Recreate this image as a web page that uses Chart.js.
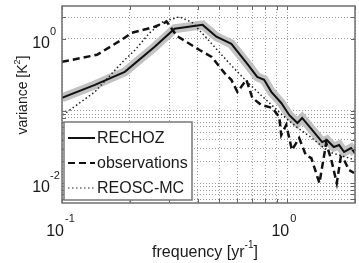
<!DOCTYPE html>
<html>
<head>
<meta charset="utf-8">
<script src="https://cdn.jsdelivr.net/npm/chart.js@4"></script>
<style>
  body { margin: 0; background: #fff; }
  #wrap { width: 359px; height: 263px; }
</style>
</head>
<body>
<div id="wrap"><canvas id="spec" width="359" height="263"></canvas></div>
<script>
// frequency [1/yr] and variance [K^2]
const rechozFreq = [0.100, 0.140, 0.190, 0.258, 0.316, 0.421, 0.485, 0.565, 0.665, 0.736, 0.790, 0.850, 0.941, 1.02, 1.11, 1.165, 1.29, 1.43, 1.50, 1.61, 1.70, 1.79, 1.92, 2.0];
const rechozVar  = [0.152, 0.230, 0.348, 0.774, 1.38, 1.56, 1.07, 0.85, 0.45, 0.297, 0.27, 0.184, 0.129, 0.088, 0.068, 0.080, 0.0545, 0.037, 0.0396, 0.0316, 0.0337, 0.027, 0.0306, 0.026];

const obsFreq = [0.100, 0.143, 0.184, 0.204, 0.258, 0.292, 0.323, 0.408, 0.462, 0.526, 0.565, 0.601, 0.659, 0.700, 0.767, 0.859, 0.922, 0.941, 0.990, 1.05, 1.13, 1.21, 1.28, 1.39, 1.49, 1.57, 1.66, 1.73, 1.79, 1.88, 1.98];
const obsVar  = [0.48, 0.60, 0.97, 1.21, 1.47, 1.72, 1.10, 0.70, 0.562, 0.337, 0.27, 0.184, 0.27, 0.152, 0.121, 0.110, 0.0825, 0.0464, 0.064, 0.0287, 0.042, 0.0245, 0.0222, 0.010, 0.036, 0.0209, 0.010, 0.023, 0.0209, 0.0152, 0.0138];

const reoscFreq = [0.101, 0.140, 0.186, 0.211, 0.245, 0.280, 0.333, 0.380, 0.438, 0.526, 0.601, 0.693, 0.807, 0.951, 1.10, 1.29, 1.53, 1.82, 2.0];
const reoscVar  = [0.088, 0.184, 0.48, 0.70, 1.21, 1.72, 2.02, 1.67, 1.03, 0.545, 0.348, 0.222, 0.142, 0.088, 0.060, 0.042, 0.027, 0.023, 0.0209];

const xTicks = [0.1, 0.2, 0.3, 0.4, 0.5, 0.6, 0.7, 0.8, 0.9, 1, 2];
const yTicks = [0.006, 0.007, 0.008, 0.009, 0.01, 0.02, 0.03, 0.04, 0.05, 0.06, 0.07, 0.08, 0.09, 0.1, 1, 2];
const xLabels = [[0.1, '-1'], [1, '0']];
const yLabels = [[1, '0'], [0.01, '-2']];
const legendNames = ['RECHOZ', 'observations', 'REOSC-MC'];

const pts = (fs, vs) => fs.map((f, i) => ({ x: f, y: vs[i] }));
const FONT = '"Liberation Sans", Arial, sans-serif';

const frame = {
  id: 'frame',
  afterDraw(chart) {
    const { ctx, chartArea: a, scales: { x, y } } = chart;
    ctx.save();

    // inner tick marks
    ctx.strokeStyle = '#666';
    ctx.lineWidth = 1;
    ctx.beginPath();
    xTicks.forEach(v => {
      const px = Math.round(x.getPixelForValue(v)) + 0.5;
      ctx.moveTo(px, a.bottom); ctx.lineTo(px, a.bottom - 4);
      ctx.moveTo(px, a.top); ctx.lineTo(px, a.top + 4);
    });
    yTicks.forEach(v => {
      const py = Math.round(y.getPixelForValue(v)) + 0.5;
      ctx.moveTo(a.left, py); ctx.lineTo(a.left + 4, py);
      ctx.moveTo(a.right, py); ctx.lineTo(a.right - 4, py);
    });
    ctx.stroke();

    // box
    ctx.strokeStyle = '#6f6f6f';
    ctx.lineWidth = 1.5;
    ctx.strokeRect(a.left, a.top, a.right - a.left, a.bottom - a.top);

    // tick labels 10^n
    ctx.fillStyle = '#1a1a1a';
    ctx.textBaseline = 'alphabetic';
    xLabels.forEach(([v, e]) => {
      const px = x.getPixelForValue(v);
      ctx.font = '16px ' + FONT;
      ctx.textAlign = 'right';
      ctx.fillText('10', px + 2, 236);
      ctx.font = '11px ' + FONT;
      ctx.textAlign = 'left';
      ctx.fillText(e, px + 3, 222);
    });
    yLabels.forEach(([v, e]) => {
      const py = y.getPixelForValue(v);
      ctx.font = '16px ' + FONT;
      ctx.textAlign = 'right';
      ctx.fillText('10', 50, py + 9);
      ctx.font = '11px ' + FONT;
      ctx.textAlign = 'left';
      ctx.fillText(e, 50, py - 4);
    });

    // x title
    ctx.textAlign = 'left';
    ctx.font = '16px ' + FONT;
    const t1 = 'frequency [yr', t2 = '-1', t3 = ']';
    const w1 = ctx.measureText(t1).width;
    ctx.font = '10px ' + FONT;
    const w2 = ctx.measureText(t2).width;
    ctx.font = '16px ' + FONT;
    const w3 = ctx.measureText(t3).width;
    let sx = 205 - (w1 + w2 + w3) / 2;
    ctx.fillText(t1, sx, 257);
    ctx.font = '10px ' + FONT;
    ctx.fillText(t2, sx + w1, 248);
    ctx.font = '16px ' + FONT;
    ctx.fillText(t3, sx + w1 + w2, 257);

    // y title, rotated
    ctx.save();
    ctx.translate(27, 95);
    ctx.rotate(-Math.PI / 2);
    ctx.font = '14px ' + FONT;
    const u1 = 'variance [K', u2 = '2', u3 = ']';
    const v1 = ctx.measureText(u1).width;
    ctx.font = '9px ' + FONT;
    const v2 = ctx.measureText(u2).width;
    ctx.font = '14px ' + FONT;
    const v3 = ctx.measureText(u3).width;
    sx = -(v1 + v2 + v3) / 2;
    ctx.fillText(u1, sx, 0);
    ctx.font = '9px ' + FONT;
    ctx.fillText(u2, sx + v1, -7);
    ctx.font = '14px ' + FONT;
    ctx.fillText(u3, sx + v1 + v2, 0);
    ctx.restore();

    // legend
    const lx = 64, ly = 122, lw = 128, lh = 78;
    ctx.fillStyle = '#fff';
    ctx.fillRect(lx, ly, lw, lh);
    ctx.strokeStyle = '#777';
    ctx.lineWidth = 1.5;
    ctx.strokeRect(lx, ly, lw, lh);
    const rows = [138, 163, 188];
    [0, 1, 2].forEach(i => {
      const ds = chart.data.datasets[i];
      ctx.strokeStyle = ds.borderColor;
      ctx.lineWidth = i === 2 ? 1.2 : 2;
      ctx.setLineDash(ds.borderDash || []);
      ctx.beginPath();
      ctx.moveTo(68, rows[i]);
      ctx.lineTo(95, rows[i]);
      ctx.stroke();
      ctx.setLineDash([]);
      ctx.fillStyle = '#1a1a1a';
      ctx.font = '16px ' + FONT;
      ctx.textBaseline = 'middle';
      ctx.fillText(legendNames[i], 97, rows[i] + 1);
    });
    ctx.restore();
  }
};

new Chart(document.getElementById('spec'), {
  type: 'line',
  data: {
    datasets: [
      { label: legendNames[0], data: pts(rechozFreq, rechozVar), borderColor: '#111', borderWidth: 2, order: 0 },
      { label: legendNames[1], data: pts(obsFreq, obsVar), borderColor: '#111', borderWidth: 2.5, borderDash: [7, 4], order: 1 },
      { label: legendNames[2], data: pts(reoscFreq, reoscVar), borderColor: '#222', borderWidth: 1.5, borderDash: [1.5, 2.5], order: 2 },
      { label: 'band', data: pts(rechozFreq, rechozVar), borderColor: '#c2c2c2', borderWidth: 9, order: 5 }
    ]
  },
  options: {
    responsive: false,
    animation: false,
    events: [],
    layout: { padding: { top: 6, right: 4, left: 0, bottom: 0 } },
    elements: { point: { radius: 0 }, line: { tension: 0, fill: false, borderCapStyle: 'butt' } },
    datasets: { line: { clip: 0 } },
    plugins: { legend: { display: false }, tooltip: { enabled: false } },
    scales: {
      x: {
        type: 'logarithmic', min: 0.1, max: 2,
        afterBuildTicks: s => { s.ticks = xTicks.map(v => ({ value: v })); },
        afterFit: s => { s.height = 60; },
        ticks: { display: false },
        grid: { color: '#9a9a9a', lineWidth: 1, drawTicks: false },
        border: { display: false, dash: [1, 2] }
      },
      y: {
        type: 'logarithmic', min: 0.0053, max: 2.85,
        afterBuildTicks: s => { s.ticks = yTicks.map(v => ({ value: v })); },
        afterFit: s => { s.width = 62; },
        ticks: { display: false },
        grid: { color: '#9a9a9a', lineWidth: 1, drawTicks: false },
        border: { display: false, dash: [1, 2] }
      }
    }
  },
  plugins: [frame]
});
</script>
</body>
</html>
